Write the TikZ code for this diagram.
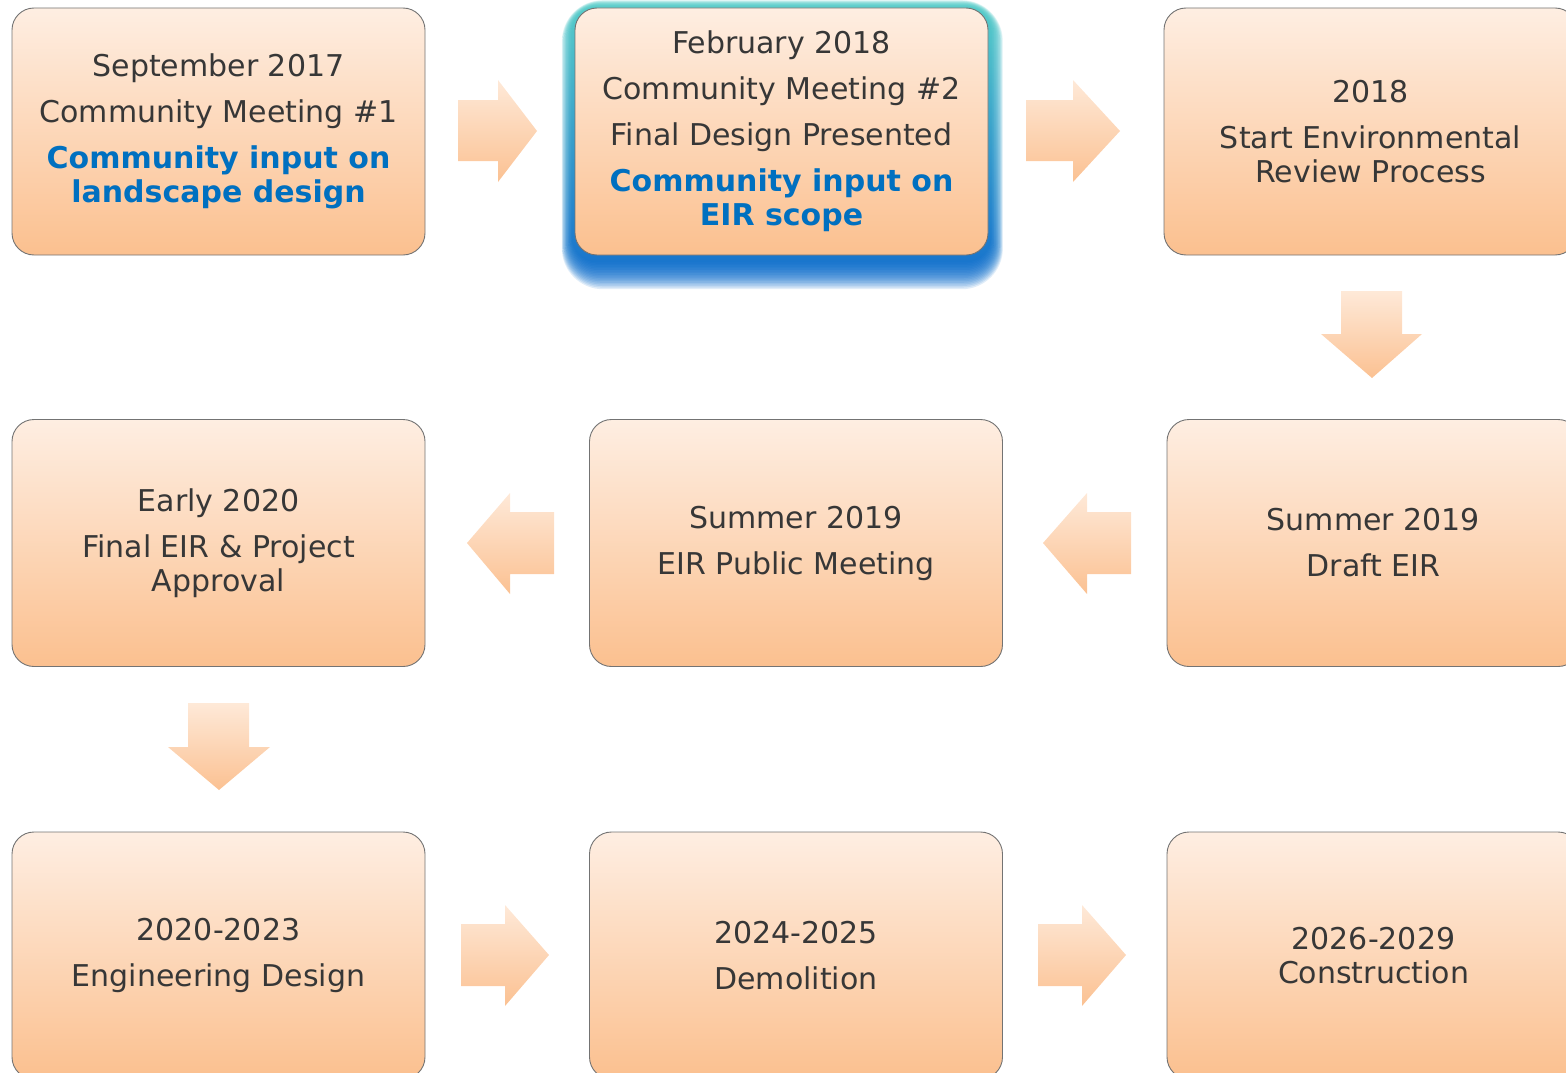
\documentclass[tikz,border=0pt]{standalone}
\usepackage{fontspec}
\setmainfont{DejaVu Sans}
\usepackage{xcolor}

\definecolor{boxtop}{RGB}{254,238,226}
\definecolor{boxbot}{RGB}{251,192,143}
\definecolor{arrtop}{RGB}{254,233,216}
\definecolor{arrbot}{RGB}{251,193,146}
\definecolor{textgray}{RGB}{55,55,55}
\definecolor{eirblue}{RGB}{0,112,192}
\definecolor{glowtop}{RGB}{70,200,195}
\definecolor{glowbot}{RGB}{0,100,200}

\newcommand{\bluetext}[1]{\textcolor{eirblue}{\bfseries #1}}

\begin{document}
\begin{tikzpicture}[x=1pt,y=-1pt,
  stage/.style={draw=black!55, line width=0.9pt, rounded corners=22pt,
    top color=boxtop, bottom color=boxbot, minimum width=413pt,
    minimum height=247pt, inner sep=0pt, align=center, text=textgray,
    font=\fontsize{30}{34}\selectfont},
  blockarrow/.style={top color=arrtop, bottom color=arrbot}]
\useasboundingbox (0,0) rectangle (1566,1073);

% soft glow behind the February box
\foreach \k in {0,...,17}
  \shade[top color=glowtop, bottom color=glowbot, fill opacity=0.12, rounded corners=24pt+\k pt]
    (572-0.6*\k, 7-0.4*\k) rectangle (991+0.7*\k, 262+1.6*\k);

\node[stage] (sep17) at (218.5,131.5) {September 2017\\[12pt]Community Meeting \#1\\[12pt]
  \bluetext{Community input on}\\\bluetext{landscape design}};
\node[stage] (feb18) at (781.5,131.5) {February 2018\\[12pt]Community Meeting \#2\\[12pt]
  Final Design Presented\\[12pt]\bluetext{Community input on}\\\bluetext{EIR scope}};
\node[stage] (start18) at (1370.5,131.5) {2018\\[12pt]Start Environmental\\Review Process};

\node[stage] (early20) at (218.5,543) {Early 2020\\[12pt]Final EIR \& Project\\Approval};
\node[stage] (pubmeet) at (796,543) {Summer 2019\\[12pt]EIR Public Meeting};
\node[stage] (draft) at (1373.5,543) {Summer 2019\\[12pt]Draft EIR};

\node[stage] (engdes) at (218.5,955.5) {2020-2023\\[12pt]Engineering Design};
\node[stage] (demol) at (796,955.5) {2024-2025\\[12pt]Demolition};
\node[stage] (constr) at (1373.5,955.5) {2026-2029\\Construction};

% block arrows
\shade[blockarrow] (458,100) -- (498,100) -- (498,80) -- (537,131) -- (498,182) -- (498,161) -- (458,161) -- cycle;
\shade[blockarrow] (1026,100) -- (1073,100) -- (1073,80) -- (1120,131) -- (1073,182) -- (1073,161) -- (1026,161) -- cycle;
\shade[blockarrow] (1341,291) -- (1402,291) -- (1402,334) -- (1422,334) -- (1372,378) -- (1321,334) -- (1341,334) -- cycle;
\shade[blockarrow] (554,512) -- (510,512) -- (510,493) -- (467,543) -- (510,594) -- (510,574) -- (554,574) -- cycle;
\shade[blockarrow] (1131,512) -- (1087,512) -- (1087,493) -- (1043,543) -- (1087,594) -- (1087,574) -- (1131,574) -- cycle;
\shade[blockarrow] (188,703) -- (249,703) -- (249,747) -- (270,747) -- (219,790) -- (168,747) -- (188,747) -- cycle;
\shade[blockarrow] (461,924) -- (505,924) -- (505,905) -- (549,955) -- (505,1006) -- (505,986) -- (461,986) -- cycle;
\shade[blockarrow] (1038,924) -- (1082,924) -- (1082,905) -- (1126,955) -- (1082,1006) -- (1082,986) -- (1038,986) -- cycle;
\end{tikzpicture}
\end{document}
